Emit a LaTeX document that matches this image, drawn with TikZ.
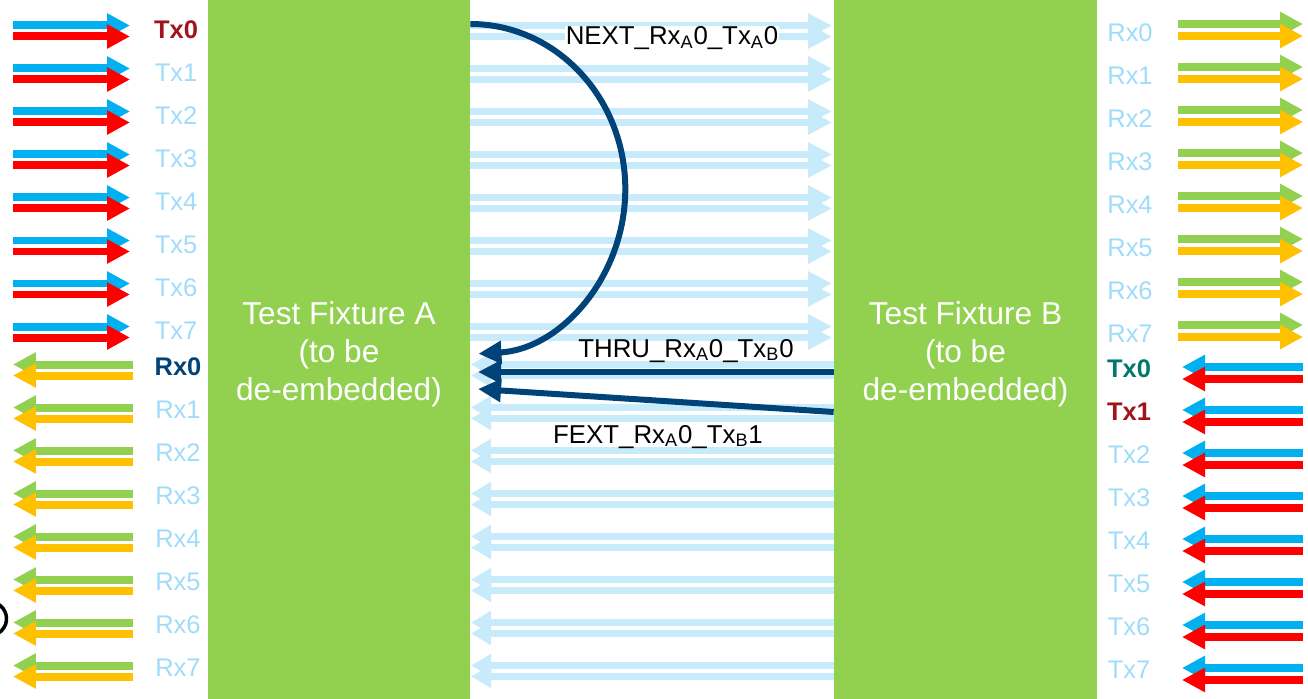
\documentclass[tikz,border=0pt]{standalone}
\usepackage{fontspec}
\setmainfont{Liberation Sans}
\usetikzlibrary{arrows.meta}

\definecolor{fixgreen}{HTML}{92D050}
\definecolor{lanefill}{HTML}{C8EBFB}
\definecolor{portblue}{HTML}{9FDCFA}
\definecolor{txblue}{HTML}{00B0F0}
\definecolor{txred}{HTML}{FF0000}
\definecolor{rxgreen}{HTML}{92D050}
\definecolor{rxyellow}{HTML}{FFC000}
\definecolor{pathblue}{HTML}{004379}
\definecolor{darkred}{HTML}{A0141C}
\definecolor{darkteal}{HTML}{00786F}

\begin{document}
\begin{tikzpicture}[x=0.02cm, y=-0.02cm,
  fixture/.style={fill=fixgreen, inner sep=0pt, minimum height=14.2cm,
    align=center, text=white, font=\fontsize{18}{21.8}\selectfont},
  port/.style={text=portblue, font=\fontsize{14.5}{17}\selectfont},
  hot/.style={font=\fontsize{14.5}{17}\selectfont\bfseries},
  wire/.style={line width=0.16cm, -{Triangle[length=0.46cm, width=0.46cm]}},
  lane/.style={line width=0.15cm, lanefill, -{Triangle[length=0.48cm, width=0.46cm]}},
  lanein/.style={line width=0.15cm, lanefill, -{Triangle[length=0.40cm, width=0.44cm]}},
  sparam/.style={line width=0.12cm, pathblue, -{Triangle[length=0.46cm, width=0.44cm]}},
  sparamlabel/.style={anchor=base, font=\fontsize{14.7}{16}\selectfont}]

  \useasboundingbox (0,0) rectangle (1308,699);

  % the two fixtures (run past the bottom edge)
  \node[fixture, minimum width=5.24cm] (fixA) at (339,354.5)
    {Test Fixture A\\(to be\\de-embedded)};
  \node[fixture, minimum width=5.26cm] (fixB) at (965.5,354.5)
    {Test Fixture B\\(to be\\de-embedded)};

  % lanes between the fixtures, A to B on top, B to A below
  \foreach \i [evaluate=\i as \yy using 31+43*\i] in {0,...,7}{
    \draw[lane] (470,\yy-5.5) -- (832,\yy-5.5);
    \draw[lane] (470,\yy+5.5) -- (832,\yy+5.5);
  }
  \foreach \i [evaluate=\i as \yy using 370+43*\i] in {0,...,7}{
    \draw[lanein] (834,\yy-5.5) -- (471,\yy-5.5);
    \draw[lanein] (834,\yy+5.5) -- (471,\yy+5.5);
  }

  % side A: Tx pairs going in, Rx pairs coming out
  \foreach \i [evaluate=\i as \yy using 31+43*\i] in {0,...,7}{
    \draw[wire, txblue] (13,\yy-5.5) -- (130,\yy-5.5);
    \draw[wire, txred] (13,\yy+5.5) -- (130,\yy+5.5);
  }
  \foreach \i [evaluate=\i as \yy using 370+43*\i] in {0,...,7}{
    \draw[wire, rxgreen] (133,\yy-5.5) -- (13,\yy-5.5);
    \draw[wire, rxyellow] (133,\yy+5.5) -- (13,\yy+5.5);
  }

  % side B: Rx pairs going out, Tx pairs coming in
  \foreach \i [evaluate=\i as \yy using 30+43*\i] in {0,...,7}{
    \draw[wire, rxgreen] (1178,\yy-6) -- (1303,\yy-6);
    \draw[wire, rxyellow] (1178,\yy+6) -- (1303,\yy+6);
  }
  \foreach \i [evaluate=\i as \yy using 373+43*\i] in {0,...,7}{
    \draw[wire, txblue] (1303,\yy-6) -- (1182,\yy-6);
    \draw[wire, txred] (1303,\yy+6) -- (1182,\yy+6);
  }

  % port names, side A
  \node[hot, text=darkred] (txA0) at (176,30) {Tx0};
  \node[hot, text=pathblue] (rxA0) at (178,367) {Rx0};
  \foreach \i in {1,...,7}{
    \node[port] (txA\i) at (176,30+43*\i) {Tx\i};
    \node[port] (rxA\i) at (178,367+43*\i) {Rx\i};
  }

  % port names, side B
  \node[hot, text=darkteal] (txB0) at (1129,369) {Tx0};
  \node[hot, text=darkred] (txB1) at (1129,412) {Tx1};
  \foreach \i in {0,...,7}{
    \node[port] (rxB\i) at (1130,33+43*\i) {Rx\i};
  }
  \foreach \i in {2,...,7}{
    \node[port] (txB\i) at (1129,369+43*\i) {Tx\i};
  }

  % the measured paths
  \coordinate (nextS) at (fixA.east |- 0,24);
  \coordinate (thruA) at (478,372);
  \coordinate (fextA) at (478,389);
  \draw[sparam] (nextS) arc[start angle=90, end angle=-87, x radius=3.1cm, y radius=3.3cm];
  \draw[sparam] (fixB.west |- thruA) -- (thruA);
  \draw[sparam] (fixB.west |- 0,412) -- (fextA);

  \node[sparamlabel, fill=white, inner sep=0.5pt] (nextlbl) at (672,45)
    {NEXT\_Rx\textsubscript{A}0\_Tx\textsubscript{A}0};
  \node[sparamlabel] (thrulbl) at (686,357)
    {THRU\_Rx\textsubscript{A}0\_Tx\textsubscript{B}0};
  \node[sparamlabel] (fextlbl) at (658,443)
    {FEXT\_Rx\textsubscript{A}0\_Tx\textsubscript{B}1};

  % edge of a bracket cut off at the left
  \draw[line width=0.07cm] (-2,604) arc[start angle=60, end angle=-60, radius=0.34cm];

\end{tikzpicture}
\end{document}
